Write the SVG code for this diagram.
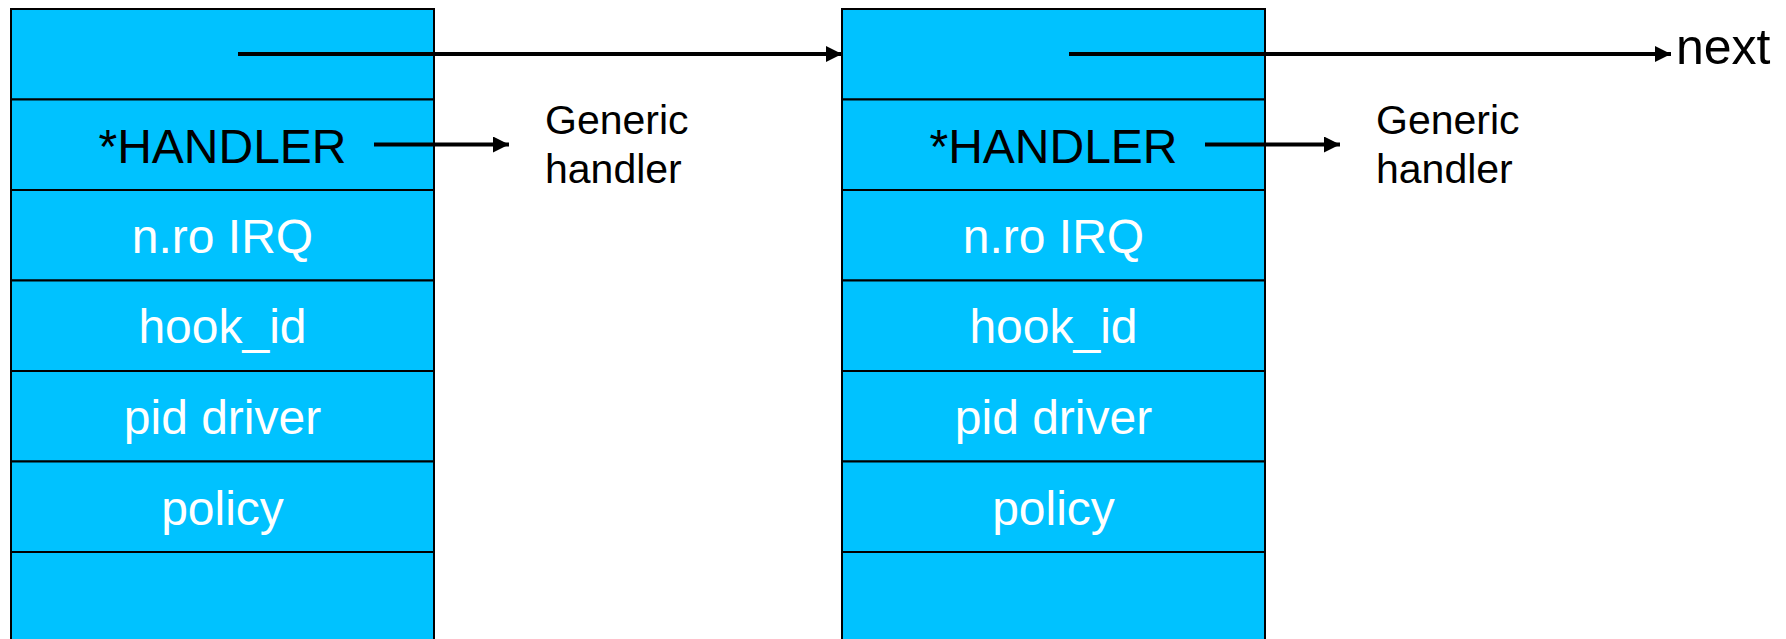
<svg xmlns="http://www.w3.org/2000/svg" width="1786" height="639" viewBox="0 0 1786 639">
  <style>
    .cell { fill: #00C2FF; stroke: #000; stroke-width: 2; }
    .field { font-family: "Liberation Sans", Arial, sans-serif; font-size: 48px; text-anchor: middle; fill: #fff; }
    .field.dark { fill: #000; }
    .note { font-family: "Liberation Sans", Arial, sans-serif; font-size: 41px; fill: #000; }
    .link { stroke: #000; stroke-width: 4; fill: none; marker-end: url(#head); }
  </style>
  <defs>
    <marker id="head" markerUnits="userSpaceOnUse" markerWidth="16" markerHeight="18" refX="16" refY="8" orient="auto">
      <path d="M0,0 L16,8 L0,16 Z" fill="#000"/>
    </marker>
  </defs>

  <rect width="1786" height="639" fill="#fff"/>

  <!-- first irq_hook record -->
  <g id="hook1">
    <rect class="cell" x="11" y="9" width="423" height="90.5"/>
    <rect class="cell" x="11" y="99.5" width="423" height="90.5"/>
    <rect class="cell" x="11" y="190" width="423" height="90.5"/>
    <rect class="cell" x="11" y="280.5" width="423" height="90.5"/>
    <rect class="cell" x="11" y="371" width="423" height="90.5"/>
    <rect class="cell" x="11" y="461.5" width="423" height="90.5"/>
    <rect class="cell" x="11" y="552" width="423" height="110"/>
    <text class="field dark" x="222.5" y="163">*HANDLER</text>
    <text class="field" x="222.5" y="253">n.ro IRQ</text>
    <text class="field" x="222.5" y="343">hook_id</text>
    <text class="field" x="222.5" y="434">pid driver</text>
    <text class="field" x="222.5" y="525">policy</text>
  </g>

  <!-- second irq_hook record -->
  <g id="hook2">
    <rect class="cell" x="842" y="9" width="423" height="90.5"/>
    <rect class="cell" x="842" y="99.5" width="423" height="90.5"/>
    <rect class="cell" x="842" y="190" width="423" height="90.5"/>
    <rect class="cell" x="842" y="280.5" width="423" height="90.5"/>
    <rect class="cell" x="842" y="371" width="423" height="90.5"/>
    <rect class="cell" x="842" y="461.5" width="423" height="90.5"/>
    <rect class="cell" x="842" y="552" width="423" height="110"/>
    <text class="field dark" x="1053.5" y="163">*HANDLER</text>
    <text class="field" x="1053.5" y="253">n.ro IRQ</text>
    <text class="field" x="1053.5" y="343">hook_id</text>
    <text class="field" x="1053.5" y="434">pid driver</text>
    <text class="field" x="1053.5" y="525">policy</text>
  </g>

  <g id="generic1">
    <text class="note" x="545" y="134">Generic</text>
    <text class="note" x="545" y="183">handler</text>
  </g>
  <g id="generic2">
    <text class="note" x="1376" y="134">Generic</text>
    <text class="note" x="1376" y="183">handler</text>
  </g>
  <g id="next">
    <text class="note" x="1676" y="64" style="font-size:50px">next</text>
  </g>

  <!-- pointers -->
  <g id="connectors">
    <line class="link" x1="238" y1="54" x2="842" y2="54"/>
    <line class="link" x1="1069" y1="54" x2="1671" y2="54"/>
    <line class="link" x1="374" y1="144.5" x2="509" y2="144.5"/>
    <line class="link" x1="1205" y1="144.5" x2="1340" y2="144.5"/>
  </g>
</svg>
